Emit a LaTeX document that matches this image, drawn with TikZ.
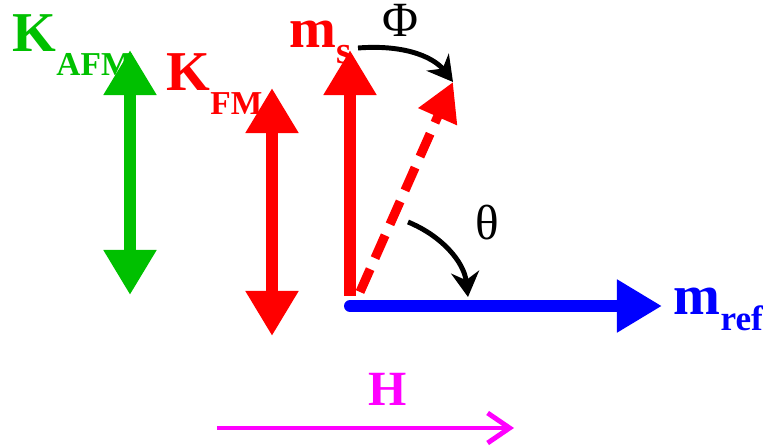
\documentclass[tikz,border=0pt]{standalone}
\usepackage{fontspec}
\setmainfont{Liberation Serif}
\usetikzlibrary{arrows.meta}

\definecolor{afmgreen}{RGB}{0,192,0}
\definecolor{fieldpink}{RGB}{255,0,255}

\begin{document}
\begin{tikzpicture}[x=0.01cm, y=-0.01cm,
  big/.style={font=\fontsize{16}{18}\selectfont\bfseries, inner sep=0pt, anchor=base west},
  dvec/.style={line width=3.4pt, draw=#1,
    {Triangle[width=0.5cm,length=0.45cm]}-{Triangle[width=0.5cm,length=0.45cm]}},
  vec/.style={line width=3.4pt, draw=#1, -{Triangle[width=0.5cm,length=0.45cm]}},
  rot/.style={line width=1.4pt, -{Stealth[width=0.28cm,length=0.25cm]}},
  greek/.style={font=\fontsize{14}{16}\selectfont, inner sep=0pt}
]
  \useasboundingbox (0,0) rectangle (763,446);

  % end points of the arrows
  \coordinate (afmtop) at (130,50);
  \coordinate (afmbot) at (130,295);
  \coordinate (fmtop) at (272,88);
  \coordinate (fmbot) at (272,336);
  \coordinate (orig) at (350,296);
  \coordinate (mstip) at (350,50);
  \coordinate (base) at (350,306);
  \coordinate (mreftip) at (662,306);
  \coordinate (tilttail) at (360,292);
  \coordinate (tilttip) at (453,82);
  \coordinate (phistart) at (358,48);
  \coordinate (thetastart) at (408,222);
  \coordinate (thetaend) at (468,297);
  \coordinate (htail) at (217,428);
  \coordinate (hhead) at (514,428);

  % anisotropy axes
  \draw[dvec=afmgreen] (afmtop) -- (afmbot);
  \draw[dvec=red] (fmtop) -- (fmbot);

  % magnetizations
  \draw[vec=red] (orig) -- (mstip);
  \draw[vec=blue, line cap=round] (base) -- (mreftip);
  \draw[red, line width=2.6pt, dash pattern=on 0.25cm off 0.12cm,
        -{Triangle[width=0.4cm,length=0.38cm]}] (tilttail) -- (tilttip);

  % rotation arcs
  \draw[rot] (phistart) .. controls (410,44) and (436,60) .. (tilttip);
  \draw[rot] (thetastart) .. controls (442,236) and (464,262) .. (thetaend);

  % field
  \draw[fieldpink, line width=1.4pt, -{Straight Barb[width=0.3cm,length=0.22cm]}] (htail) -- (hhead);

  % labels
  \node[big, text=afmgreen] (lafm) at (12,52) {K\raisebox{-0.9ex}{\fontsize{9.5}{10}\selectfont AFM}};
  \node[big, text=red] (lfm) at (166,91) {K\raisebox{-0.9ex}{\fontsize{9.5}{10}\selectfont FM}};
  \node[big, text=red] (lms) at (289,48) {m\raisebox{-0.6ex}{\fontsize{11}{12}\selectfont s}};
  \node[big, text=blue] (lmref) at (673,315) {m\raisebox{-0.6ex}{\fontsize{10}{11}\selectfont ref}};
  \node[greek] (lphi) at (400,20) {Φ};
  \node[greek] (ltheta) at (487,223) {θ};
  \node[big, anchor=center, text=fieldpink, font=\fontsize{14}{16}\selectfont\bfseries] (lh) at (388,389) {H};
\end{tikzpicture}
\end{document}
